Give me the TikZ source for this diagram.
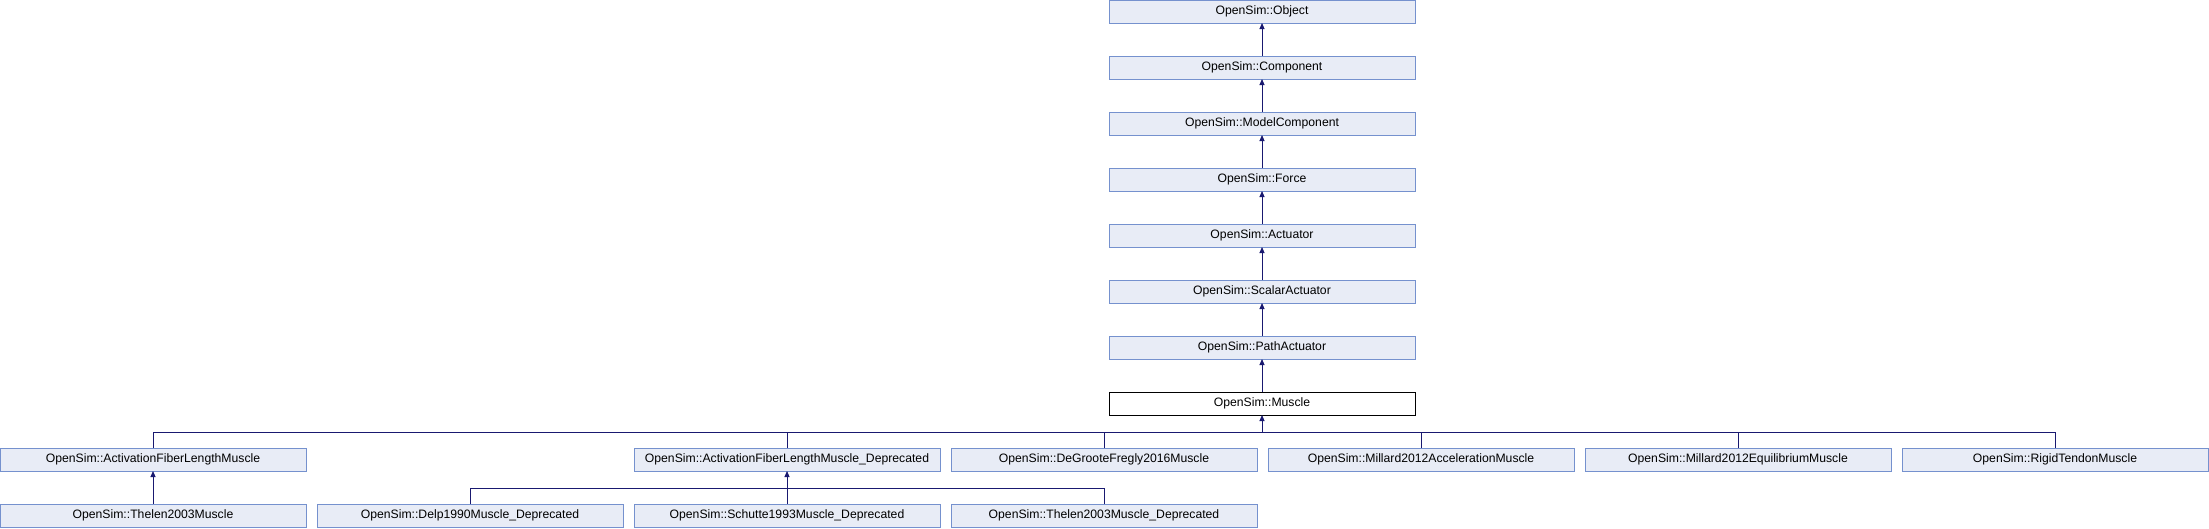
\documentclass[tikz,border=0pt]{standalone}
\usepackage{fontspec}
\setmainfont{Liberation Sans}
\usetikzlibrary{arrows.meta}
\definecolor{boxfill}{HTML}{E8ECF6}
\definecolor{boxdraw}{HTML}{7591CE}
\definecolor{edgecol}{HTML}{191970}
\tikzset{
  cls/.style={draw=boxdraw, fill=boxfill, line width=1pt, minimum width=306pt, minimum height=23pt, inner sep=0pt, outer sep=0pt, font=\fontsize{12.2pt}{14pt}\selectfont},
  cur/.style={cls, draw=black, fill=white},
  link/.style={draw=edgecol, line width=1pt},
  inh/.style={link, -{Triangle[length=6pt,width=5pt]}}
}
\begin{document}
\begin{tikzpicture}[x=1pt,y=1pt]
\useasboundingbox (0,0) rectangle (2209,-528);
% main chain
\node[cls] (obj) at (1262,-11.5) {OpenSim::Object};
\node[cls] (comp) at (1262,-67.5) {OpenSim::Component};
\node[cls] (mc) at (1262,-123.5) {OpenSim::ModelComponent};
\node[cls] (force) at (1262,-179.5) {OpenSim::Force};
\node[cls] (act) at (1262,-235.5) {OpenSim::Actuator};
\node[cls] (sact) at (1262,-291.5) {OpenSim::ScalarActuator};
\node[cls] (pact) at (1262,-347.5) {OpenSim::PathActuator};
\node[cur] (mus) at (1262,-403.5) {OpenSim::Muscle};
% children of Muscle
\node[cls] (afl) at (153,-459.5) {OpenSim::ActivationFiberLengthMuscle};
\node[cls] (afld) at (787,-459.5) {OpenSim::ActivationFiberLengthMuscle\_Deprecated};
\node[cls] (dgf) at (1104,-459.5) {OpenSim::DeGrooteFregly2016Muscle};
\node[cls] (mac) at (1421,-459.5) {OpenSim::Millard2012AccelerationMuscle};
\node[cls] (meq) at (1738,-459.5) {OpenSim::Millard2012EquilibriumMuscle};
\node[cls] (rtm) at (2055,-459.5) {OpenSim::RigidTendonMuscle};
% grandchildren
\node[cls] (th) at (153,-515.5) {OpenSim::Thelen2003Muscle};
\node[cls] (delp) at (470,-515.5) {OpenSim::Delp1990Muscle\_Deprecated};
\node[cls] (sch) at (787,-515.5) {OpenSim::Schutte1993Muscle\_Deprecated};
\node[cls] (thd) at (1104,-515.5) {OpenSim::Thelen2003Muscle\_Deprecated};
% chain edges
\draw[inh] (comp) -- (obj);
\draw[inh] (mc) -- (comp);
\draw[inh] (force) -- (mc);
\draw[inh] (act) -- (force);
\draw[inh] (sact) -- (act);
\draw[inh] (pact) -- (sact);
\draw[inh] (mus) -- (pact);
% muscle bus
\coordinate (mbus) at (1262,-432);
\draw[link] (afl.north) |- (mbus);
\draw[link] (afld.north) |- (mbus);
\draw[link] (dgf.north) |- (mbus);
\draw[link] (mac.north) |- (mbus);
\draw[link] (meq.north) |- (mbus);
\draw[link] (rtm.north) |- (mbus);
\draw[inh] (mbus) -- (mus.south);
% thelen
\draw[inh] (th) -- (afl);
% deprecated bus
\coordinate (dbus) at (787,-488);
\draw[link] (delp.north) |- (dbus);
\draw[link] (sch.north) |- (dbus);
\draw[link] (thd.north) |- (dbus);
\draw[inh] (dbus) -- (afld.south);
\end{tikzpicture}
\end{document}
